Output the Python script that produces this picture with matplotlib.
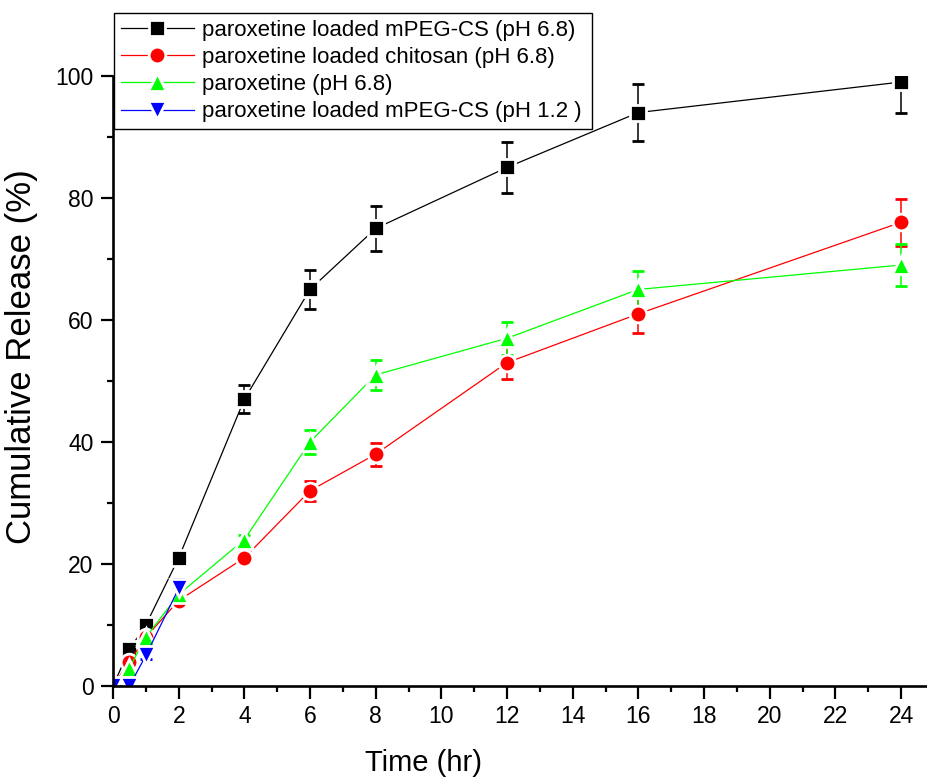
import matplotlib
matplotlib.use("Agg")
import matplotlib.pyplot as plt
from matplotlib.ticker import MultipleLocator

plt.rcParams['font.family'] = ['Liberation Sans', 'DejaVu Sans']

# release time points (hr)
time_hr = [0, 0.5, 1, 2, 4, 6, 8, 12, 16, 24]
time_acid = [0, 0.5, 1, 2]

# cumulative release (%) and standard deviations
mpeg_cs = [0, 6, 10, 21, 47, 65, 75, 85, 94, 99]
mpeg_cs_sd = [0.3, 0.3, 0.4, 0.5, 2.3, 3.2, 3.7, 4.2, 4.7, 5.0]

chitosan = [0, 4, 8, 14, 21, 32, 38, 53, 61, 76]
chitosan_sd = [0.3, 0.4, 0.5, 0.5, 0.6, 1.6, 1.9, 2.6, 3.1, 3.8]

free_drug = [0, 3, 8, 15, 24, 40, 51, 57, 65, 69]
free_drug_sd = [0.3, 1.5, 0.6, 1.2, 0.7, 2.0, 2.5, 2.7, 3.0, 3.4]

mpeg_cs_acid = [0, 0, 5, 16]
mpeg_cs_acid_sd = [0.3, 0.3, 0.6, 1.5]

labels = ['paroxetine loaded mPEG-CS (pH 6.8)',
          'paroxetine loaded chitosan (pH 6.8)',
          'paroxetine (pH 6.8)',
          'paroxetine loaded mPEG-CS (pH 1.2 )']

fig = plt.figure(figsize=(9.28, 7.78), dpi=100)
ax = fig.add_axes([0.1218, 0.1183, 0.8845, 0.7841])

series = [
    (time_hr, mpeg_cs, mpeg_cs_sd, 's', 11.0, 'black'),
    (time_hr, chitosan, chitosan_sd, 'o', 12.0, 'red'),
    (time_hr, free_drug, free_drug_sd, '^', 13.5, '#00ff00'),
    (time_acid, mpeg_cs_acid, mpeg_cs_acid_sd, 'v', 13.5, 'blue'),
]

handles = []
for (x, y, err, mk, ms, col), lab in zip(series, labels):
    line, caps, bars = ax.errorbar(x, y, yerr=err, color=col, marker=mk, ms=ms,
                                   mfc=col, mec='white', mew=2.0, lw=0.9,
                                   elinewidth=1.1, capsize=4.5, capthick=1.1,
                                   label=lab)
    handles.append(line)

ax.set_xlim(0, 25)
ax.set_ylim(0, 100)

ax.spines['top'].set_visible(False)
ax.spines['right'].set_visible(False)
ax.spines['left'].set_linewidth(1.9)
ax.spines['bottom'].set_linewidth(1.9)

ax.xaxis.set_major_locator(MultipleLocator(2))
ax.xaxis.set_minor_locator(MultipleLocator(1))
ax.yaxis.set_major_locator(MultipleLocator(20))
ax.yaxis.set_minor_locator(MultipleLocator(10))
ax.tick_params(which='major', direction='out', length=9, width=1.6,
               labelsize=16.5, pad=5)
ax.tick_params(which='minor', direction='out', length=4.5, width=1.6)

ax.set_xlabel('Time (hr)', fontsize=21)
ax.set_ylabel('Cumulative Release (%)', fontsize=25)
ax.xaxis.set_label_coords(0.378, -0.103)
ax.yaxis.set_label_coords(-0.092, 0.54)

leg = fig.legend(handles, labels, loc='upper left',
                 bbox_to_anchor=(114 / 928, 1 - 127 / 778, 478 / 928, 114 / 778),
                 bbox_transform=fig.transFigure, mode='expand',
                 fontsize=16, frameon=True, fancybox=False, borderaxespad=0,
                 borderpad=0.3, labelspacing=0.28, handlelength=3.3,
                 handletextpad=0.35)
leg.get_frame().set_edgecolor('black')
leg.get_frame().set_linewidth(1.0)
leg.get_frame().set_alpha(1)

fig.savefig('out.png', dpi=100)
